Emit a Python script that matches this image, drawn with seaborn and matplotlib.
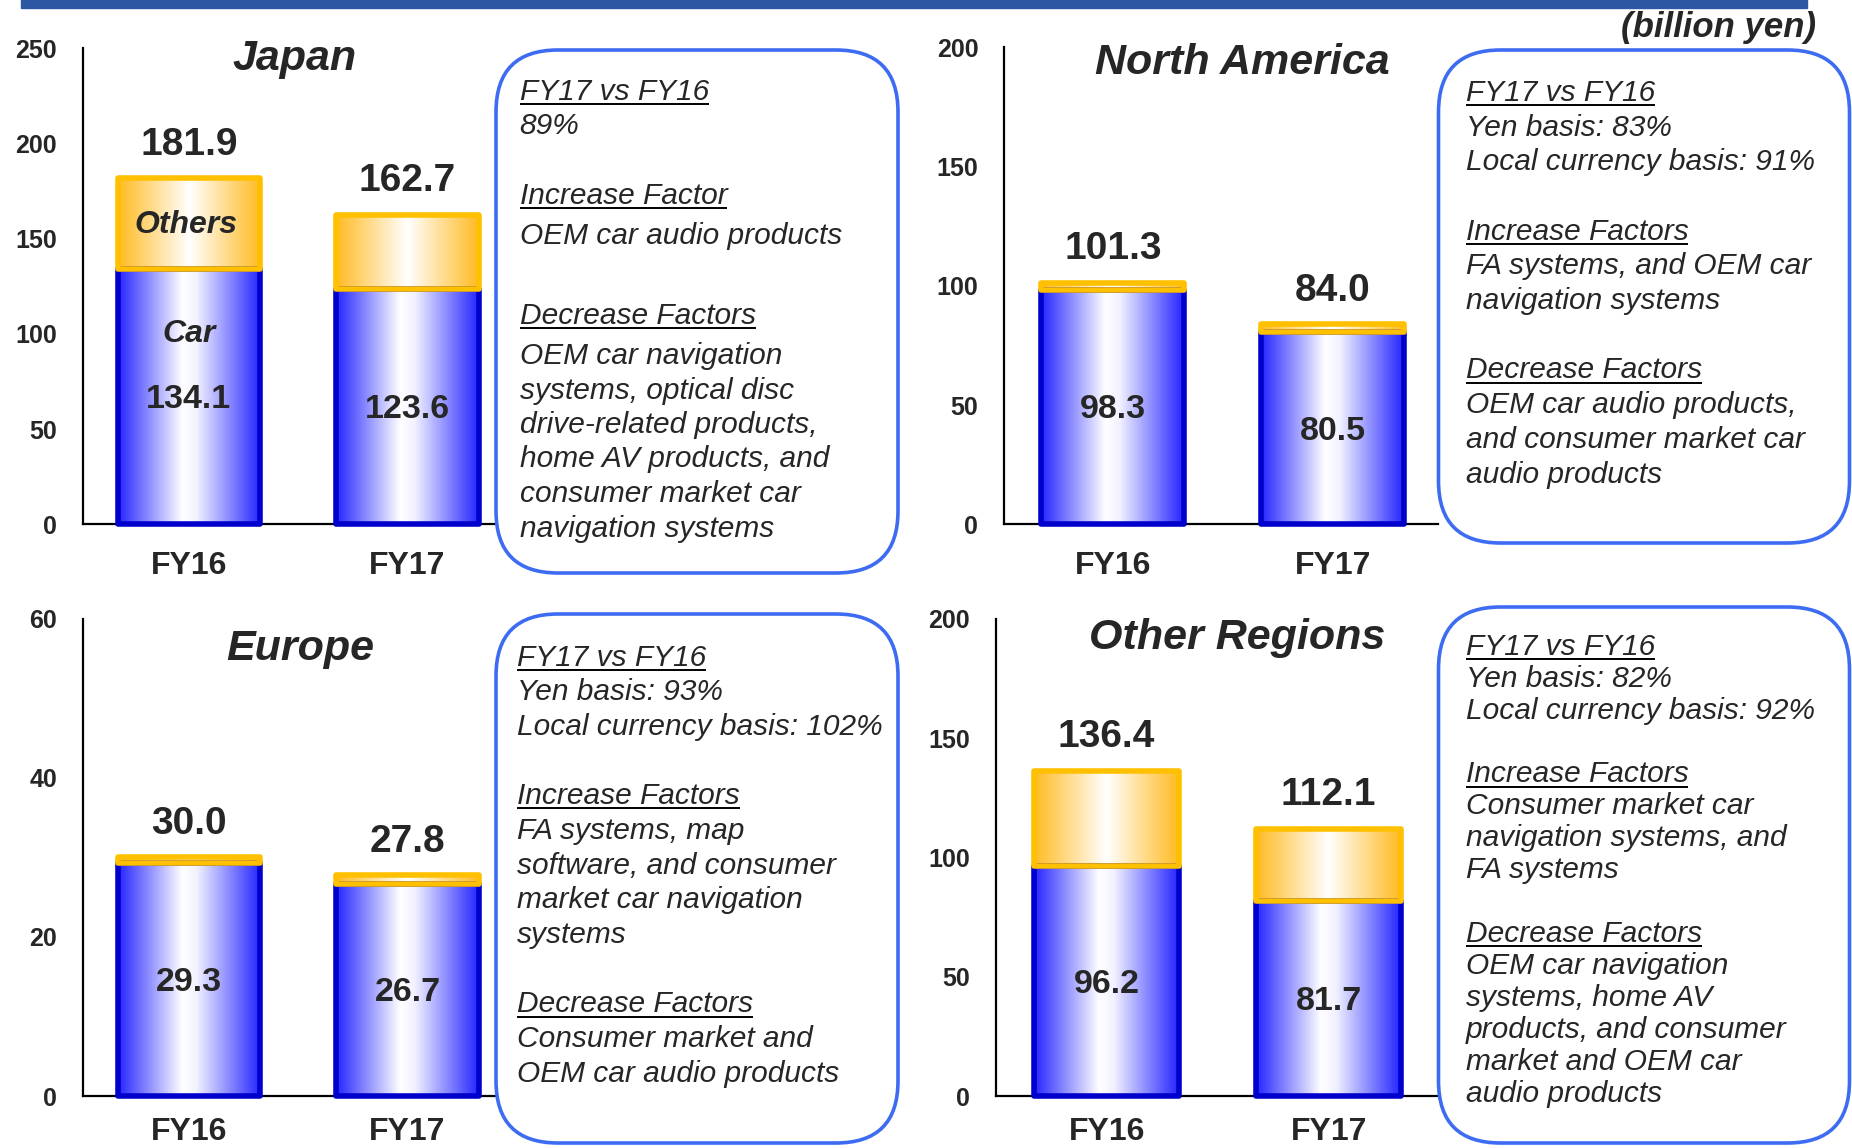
import numpy as np
import pandas as pd
import matplotlib
matplotlib.use("Agg")
import matplotlib.pyplot as plt
import seaborn as sns
from matplotlib.colors import LinearSegmentedColormap
from matplotlib.patches import FancyBboxPatch, Rectangle

# ---- data (billion yen) ----
years = ["FY16", "FY17"]

japan_car = [134.1, 123.6]
japan_total = [181.9, 162.7]
na_car = [98.3, 80.5]
na_total = [101.3, 84.0]
europe_car = [29.3, 26.7]
europe_total = [30.0, 27.8]
other_car = [96.2, 81.7]
other_total = [136.4, 112.1]

japan_ticks = [0, 50, 100, 150, 200, 250]
na_ticks = [0, 50, 100, 150, 200]
europe_ticks = [0, 20, 40, 60]
other_ticks = [0, 50, 100, 150, 200]

japan_notes = ["_FY17 vs FY16", "89%", "", "_Increase Factor", "OEM car audio products", "",
               "_Decrease Factors", "OEM car navigation", "systems, optical disc",
               "drive-related products,", "home AV products, and",
               "consumer market car", "navigation systems"]
na_notes = ["_FY17 vs FY16", "Yen basis: 83%", "Local currency basis: 91%", "",
            "_Increase Factors", "FA systems, and OEM car", "navigation systems", "",
            "_Decrease Factors", "OEM car audio products,", "and consumer market car",
            "audio products"]
europe_notes = ["_FY17 vs FY16", "Yen basis: 93%", "Local currency basis: 102%", "",
                "_Increase Factors", "FA systems, map", "software, and consumer",
                "market car navigation", "systems", "",
                "_Decrease Factors", "Consumer market and", "OEM car audio products"]
other_notes = ["_FY17 vs FY16", "Yen basis: 82%", "Local currency basis: 92%", "",
               "_Increase Factors", "Consumer market car", "navigation systems, and",
               "FA systems", "", "_Decrease Factors", "OEM car navigation",
               "systems, home AV", "products, and consumer", "market and OEM car",
               "audio products"]

W, H = 1852, 1148
sns.set_style("white")
plt.rcParams["font.family"] = ["Liberation Sans", "DejaVu Sans"]

blue_cmap = LinearSegmentedColormap.from_list(
    "bl", [(0, "#2525ff"), (0.45, "#ffffff"), (0.55, "#f2f2ff"), (1, "#2525ff")])
orange_cmap = LinearSegmentedColormap.from_list(
    "or", [(0, "#ffbb22"), (0.5, "#ffffff"), (1, "#ffbb22")])
grad = np.linspace(0, 1, 256).reshape(1, -1)
box_blue = "#3d6cf2"

fig = plt.figure(figsize=(W / 100, H / 100), dpi=100)


def px_axes(left, right, top, bottom):
    return fig.add_axes([left / W, 1 - bottom / H, (right - left) / W, (bottom - top) / H])


def draw_panel(ax, car, total, ticks, xlim, show_parts=False, xpad=19):
    df = pd.DataFrame({"year": years, "car": car, "total": total})
    df["others"] = df["total"] - df["car"]
    sns.barplot(data=df, x="year", y="car", width=0.65, color="#0000cc",
                errorbar=None, ax=ax, zorder=3)
    sns.barplot(data=df, x="year", y="others", bottom=df["car"].to_numpy(), width=0.65,
                color="#ffc000", errorbar=None, ax=ax, zorder=3)

    for i, bar in enumerate(ax.patches):
        is_car = i < len(years)
        cmap = blue_cmap if is_car else orange_cmap
        x0, y0 = bar.get_x(), bar.get_y()
        im = ax.imshow(grad, cmap=cmap, aspect="auto", interpolation="bicubic",
                       extent=(x0, x0 + bar.get_width(), y0, y0 + bar.get_height()), zorder=2)
        im.set_clip_path(bar)
        bar.set_facecolor("none")
        bar.set_edgecolor("#0000cc" if is_car else "#ffc000")
        bar.set_linewidth(4)
        bar.set_joinstyle("round")
        bar.set_clip_on(False)

    for i, (c, t) in enumerate(zip(car, total)):
        ax.annotate(f"{t:.1f}", (i, t), xytext=(0, 24), textcoords="offset points",
                    ha="center", va="center", fontsize=28, fontweight="bold", zorder=6)
        ax.annotate(f"{c:.1f}", (i, c / 2), xytext=(0, -2), textcoords="offset points",
                    ha="center", va="center", fontsize=24.5, fontweight="bold", zorder=6)
    if show_parts:
        ax.annotate("Car", (0, car[0] / 2), xytext=(0, 45), textcoords="offset points",
                    ha="center", va="center", fontsize=23, fontweight="bold",
                    style="italic", zorder=6)
        ax.annotate("Others", (0, (car[0] + total[0]) / 2), xytext=(-2, -1),
                    textcoords="offset points", ha="center", va="center",
                    fontsize=23, fontweight="bold", style="italic", zorder=6)

    ax.set_xlim(xlim)
    ax.set_ylim(0, ticks[-1])
    ax.set_yticks(ticks)
    ax.set_xlabel("")
    ax.set_ylabel("")
    ax.set_facecolor("none")
    ax.tick_params(axis="y", direction="in", length=6, width=1.5, pad=18.5, labelsize=18)
    ax.tick_params(axis="x", length=0, pad=xpad, labelsize=23)
    for lab in ax.get_xticklabels() + ax.get_yticklabels():
        lab.set_fontweight("bold")
    sns.despine(ax=ax)
    for side in ["left", "bottom"]:
        ax.spines[side].set_linewidth(1.6)
        ax.spines[side].set_color("black")


ax_jp = px_axes(82.7, 496, 48.4, 524.4)
draw_panel(ax_jp, japan_car, japan_total, japan_ticks, (-0.486, 1.405), show_parts=True)
ax_na = px_axes(1004, 1438.5, 47.2, 524.4)
draw_panel(ax_na, na_car, na_total, na_ticks, (-0.495, 1.48))
ax_eu = px_axes(82.7, 496, 618.8, 1096)
draw_panel(ax_eu, europe_car, europe_total, europe_ticks, (-0.486, 1.405), xpad=15)
ax_ot = px_axes(995.6, 1438.5, 618.8, 1096)
draw_panel(ax_ot, other_car, other_total, other_ticks, (-0.5, 1.495), xpad=15)

# overlay in pixel units for boxes and titles
ov = fig.add_axes([0, 0, 1, 1])
ov.set_xlim(0, W)
ov.set_ylim(H, 0)
ov.axis("off")

ov.add_patch(Rectangle((21, 0), 1786, 8, color="#2b57a3"))
ov.text(1816, 28, "(billion yen)", ha="right", va="center", fontsize=25,
        fontweight="bold", style="italic")

titles = [("Japan", 295, 59), ("North America", 1242, 63),
          ("Europe", 300, 649), ("Other Regions", 1237, 638)]
for name, tx, ty in titles:
    ov.text(tx, ty, name, ha="center", va="center", fontsize=31,
            fontweight="bold", style="italic")

boxes = [
    dict(rect=(496, 50, 402, 523), x=519.6, lines=japan_notes,
         ys=[89.8, 124, None, 193.7, 233.9, None, 314.2, 354.3, 388.6, 422.8, 457.1, 492.5, 526.7]),
    dict(rect=(1438.5, 50, 411, 493), x=1465.6, lines=na_notes, start=90.9, step=34.7),
    dict(rect=(496, 614, 402, 529), x=517, lines=europe_notes, start=655.5, step=34.7),
    dict(rect=(1438.5, 607, 411, 536), x=1465.6, lines=other_notes, start=644.9, step=31.9),
]

underlined = []
for b in boxes:
    bx, by, bw, bh = b["rect"]
    ov.add_patch(FancyBboxPatch((bx, by), bw, bh, boxstyle="round,pad=0,rounding_size=62",
                                ec=box_blue, fc="none", lw=2.6))
    for k, line in enumerate(b["lines"]):
        if not line:
            continue
        y = b["ys"][k] if "ys" in b else b["start"] + k * b["step"]
        heading = line.startswith("_")
        t = ov.text(b["x"], y + 10, line.lstrip("_"), ha="left", va="baseline",
                    fontsize=21.5, style="italic")
        if heading:
            underlined.append((t, b["x"], y + 10))

renderer = fig.canvas.get_renderer()
for t, x, yb in underlined:
    width = t.get_window_extent(renderer).width
    ov.plot([x, x + width], [yb + 4, yb + 4], color="black", lw=1.4,
            solid_capstyle="butt")

fig.savefig("out.png", dpi=100)
